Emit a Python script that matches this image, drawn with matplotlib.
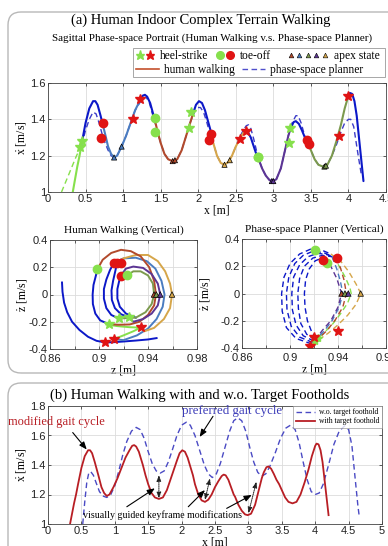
import numpy as np
import matplotlib
matplotlib.use('Agg')
import matplotlib.pyplot as plt
from matplotlib.lines import Line2D
from matplotlib.legend_handler import HandlerTuple
from matplotlib.patches import FancyBboxPatch, Rectangle
from matplotlib.ticker import FuncFormatter

plt.rcParams['font.family'] = ['Liberation Sans', 'DejaVu Sans']
plt.rcParams['mathtext.fontset'] = 'custom'
plt.rcParams['mathtext.rm'] = 'Liberation Serif'
plt.rcParams['mathtext.it'] = 'Liberation Serif:italic'
SERIF = ['Liberation Serif', 'DejaVu Serif']

# ---------------- colours ----------------
BLUE = '#0c18c8'
STEEL = '#4a7cc0'
BROWN = '#b24a2c'
GOLD = '#d6a64a'
PURPLE = '#5c3594'
OLIVE = '#7c9a4e'
LGREEN = '#86e04c'
RED = '#e01414'
PLAN = '#3c3cc8'

# ---------------- (a) sagittal: human walking segments ----------------
hw_green_x = [0.33, 0.36, 0.39, 0.42, 0.45]
hw_green_y = [1.00, 1.07, 1.14, 1.20, 1.27]
hw_blue1_x = [0.45, 0.50, 0.55, 0.60, 0.63, 0.66, 0.70, 0.73]
hw_blue1_y = [1.27, 1.38, 1.46, 1.50, 1.50, 1.48, 1.42, 1.37]
hw_steel_x = [0.73, 0.76, 0.80, 0.84, 0.88, 0.92, 0.98, 1.04, 1.10, 1.16, 1.22]
hw_steel_y = [1.37, 1.32, 1.25, 1.21, 1.19, 1.20, 1.25, 1.31, 1.38, 1.45, 1.50]
hw_blue2_x = [1.22, 1.26, 1.29, 1.32, 1.36, 1.40, 1.42]
hw_blue2_y = [1.50, 1.53, 1.535, 1.525, 1.49, 1.43, 1.40]
hw_brown_x = [1.42, 1.46, 1.50, 1.55, 1.60, 1.66, 1.72, 1.78, 1.84, 1.90, 1.93]
hw_brown_y = [1.40, 1.33, 1.27, 1.21, 1.18, 1.17, 1.18, 1.23, 1.31, 1.39, 1.43]
hw_blue3_x = [1.93, 1.97, 2.01, 2.05, 2.09, 2.13, 2.17]
hw_blue3_y = [1.43, 1.48, 1.50, 1.49, 1.45, 1.39, 1.33]
hw_gold_x = [2.17, 2.20, 2.25, 2.30, 2.35, 2.40, 2.45, 2.50, 2.55, 2.60, 2.63]
hw_gold_y = [1.33, 1.27, 1.20, 1.16, 1.15, 1.165, 1.20, 1.25, 1.29, 1.325, 1.335]
hw_blue4_x = [2.63, 2.66, 2.70, 2.74, 2.78, 2.80]
hw_blue4_y = [1.335, 1.33, 1.30, 1.25, 1.20, 1.185]
hw_purple_x = [2.80, 2.85, 2.90, 2.95, 2.99, 3.04, 3.10, 3.15, 3.20, 3.23]
hw_purple_y = [1.185, 1.13, 1.09, 1.065, 1.06, 1.07, 1.13, 1.22, 1.31, 1.35]
hw_blue5_x = [3.23, 3.27, 3.30, 3.34, 3.38, 3.42, 3.46]
hw_blue5_y = [1.35, 1.385, 1.39, 1.375, 1.34, 1.30, 1.27]
hw_olive_x = [3.46, 3.50, 3.55, 3.60, 3.66, 3.72, 3.78, 3.84, 3.90, 3.95, 4.00]
hw_olive_y = [1.27, 1.23, 1.18, 1.15, 1.14, 1.15, 1.20, 1.28, 1.37, 1.46, 1.53]
hw_blue6_x = [4.00, 4.02, 4.05, 4.08, 4.11, 4.14, 4.17, 4.20]
hw_blue6_y = [1.53, 1.545, 1.54, 1.50, 1.42, 1.30, 1.18, 1.06]

# phase-space planner (sagittal)
pl_green_x = [0.18, 0.25, 0.32, 0.38, 0.45]
pl_green_y = [1.00, 1.07, 1.14, 1.20, 1.26]
pl_x = [0.45, 0.50, 0.55, 0.60, 0.64, 0.68, 0.72, 0.76, 0.80, 0.84, 0.88, 0.92, 0.98,
        1.04, 1.10, 1.16, 1.22, 1.27, 1.31, 1.35, 1.39, 1.42, 1.46, 1.50, 1.55, 1.60,
        1.66, 1.72, 1.78, 1.84, 1.90, 1.95, 1.99, 2.03, 2.07, 2.11, 2.15, 2.20, 2.25,
        2.30, 2.35, 2.40, 2.45, 2.50, 2.55, 2.60, 2.64, 2.67, 2.70, 2.74, 2.78, 2.82,
        2.86, 2.90, 2.95, 2.99, 3.04, 3.10, 3.15, 3.20, 3.25, 3.30, 3.33, 3.37, 3.41,
        3.45, 3.50, 3.55, 3.60, 3.66, 3.72, 3.78, 3.84, 3.90, 3.95, 4.00, 4.03, 4.07,
        4.10, 4.13, 4.17]
pl_y = [1.26, 1.34, 1.40, 1.44, 1.43, 1.38, 1.32, 1.27, 1.23, 1.20, 1.19, 1.20, 1.25,
        1.31, 1.38, 1.45, 1.49, 1.52, 1.52, 1.49, 1.43, 1.39, 1.33, 1.27, 1.21, 1.18,
        1.17, 1.18, 1.23, 1.31, 1.39, 1.44, 1.465, 1.465, 1.44, 1.39, 1.33, 1.27, 1.20,
        1.16, 1.15, 1.165, 1.20, 1.25, 1.30, 1.34, 1.365, 1.37, 1.35, 1.29, 1.22, 1.165,
        1.12, 1.09, 1.065, 1.06, 1.07, 1.13, 1.22, 1.31, 1.38, 1.42, 1.42, 1.38, 1.32,
        1.27, 1.23, 1.18, 1.15, 1.14, 1.15, 1.20, 1.26, 1.33, 1.38, 1.40, 1.40, 1.36,
        1.28, 1.20, 1.10]

# events (sagittal)
hs_green_x = [0.45, 0.43, 1.90, 1.88, 3.22, 3.21]
hs_green_y = [1.28, 1.25, 1.44, 1.35, 1.35, 1.27]
hs_red_x = [1.23, 1.13, 2.63, 2.55, 4.00, 3.88]
hs_red_y = [1.51, 1.40, 1.335, 1.29, 1.53, 1.31]
to_red_x = [0.73, 0.70, 2.17, 2.15, 3.45, 3.48]
to_red_y = [1.38, 1.30, 1.32, 1.285, 1.285, 1.265]
to_green_x = [1.42, 1.42, 2.80, 2.79]
to_green_y = [1.41, 1.33, 1.19, 1.19]
apex_x = [0.88, 0.98, 1.66, 1.69, 2.35, 2.42, 2.98, 3.00, 3.68, 3.70]
apex_y = [1.19, 1.25, 1.17, 1.175, 1.15, 1.175, 1.06, 1.06, 1.14, 1.145]
apex_c = [STEEL, STEEL, BROWN, BROWN, GOLD, GOLD, PURPLE, PURPLE, OLIVE, OLIVE]

# ---------------- vertical, human walking ----------------
vh_steel_z = [0.9123, 0.920, 0.930, 0.939, 0.946, 0.951, 0.9535, 0.952, 0.947, 0.940, 0.931, 0.920, 0.912]
vh_steel_d = [0.234, 0.265, 0.270, 0.245, 0.190, 0.100, 0.0, -0.09, -0.18, -0.25, -0.30, -0.335, -0.327]
vh_brown_z = [0.8987, 0.903, 0.910, 0.918, 0.926, 0.934, 0.941, 0.945, 0.9465, 0.945, 0.940, 0.933, 0.925, 0.916, 0.908]
vh_brown_d = [0.185, 0.255, 0.305, 0.328, 0.318, 0.280, 0.200, 0.100, 0.0, -0.08, -0.15, -0.20, -0.22, -0.222, -0.217]
vh_gold_z = [0.9147, 0.920, 0.930, 0.940, 0.948, 0.954, 0.958, 0.9596, 0.958, 0.953, 0.945, 0.937, 0.934]
vh_gold_d = [0.234, 0.265, 0.290, 0.290, 0.245, 0.170, 0.080, 0.0, -0.10, -0.18, -0.245, -0.27, -0.241]
vh_purple_z = [0.9177, 0.922, 0.928, 0.936, 0.943, 0.948, 0.950, 0.948, 0.943, 0.936, 0.928, 0.9245]
vh_purple_d = [0.137, 0.190, 0.205, 0.195, 0.150, 0.080, 0.0, -0.08, -0.14, -0.18, -0.20, -0.168]
vh_olive_z = [0.923, 0.928, 0.934, 0.940, 0.944, 0.945, 0.943, 0.938, 0.930, 0.9163]
vh_olive_d = [0.141, 0.170, 0.170, 0.140, 0.080, 0.0, -0.07, -0.13, -0.17, -0.176]
vh_green_z = [0.906, 0.915, 0.925, 0.934, 0.928, 0.920, 0.9123]
vh_green_d = [-0.220, -0.232, -0.240, -0.243, -0.27, -0.30, -0.327]
vh_blueA_z = [0.8698, 0.8702, 0.8715, 0.874, 0.878, 0.884, 0.891, 0.898, 0.905, 0.912, 0.920, 0.930, 0.940, 0.947]
vh_blueA_d = [0.088, 0.02, -0.06, -0.13, -0.20, -0.26, -0.31, -0.34, -0.352, -0.35, -0.345, -0.338, -0.33, -0.32]
vh_blueB_z = [0.908, 0.901, 0.897, 0.895, 0.8948, 0.8955, 0.8975, 0.8987]
vh_blueB_d = [-0.217, -0.19, -0.14, -0.07, 0.0, 0.07, 0.14, 0.185]
vh_blueC_z = [0.916, 0.910, 0.906, 0.904, 0.904, 0.906, 0.909, 0.9123]
vh_blueC_d = [-0.176, -0.15, -0.10, -0.03, 0.04, 0.11, 0.18, 0.234]
vh_blueD_z = [0.9245, 0.918, 0.913, 0.9105, 0.9102, 0.9115, 0.9135, 0.9147]
vh_blueD_d = [-0.168, -0.145, -0.10, -0.04, 0.03, 0.10, 0.18, 0.234]
vh_blueE_z = [0.930, 0.922, 0.917, 0.915, 0.915, 0.9165, 0.9177]
vh_blueE_d = [-0.17, -0.14, -0.09, -0.03, 0.04, 0.10, 0.137]

vh_to_red_z = [0.9123, 0.9147, 0.9177, 0.9177]
vh_to_red_d = [0.234, 0.234, 0.234, 0.137]
vh_to_green_z = [0.8987, 0.923]
vh_to_green_d = [0.185, 0.141]
vh_hs_red_z = [0.9052, 0.9123, 0.934]
vh_hs_red_d = [-0.351, -0.327, -0.241]
vh_hs_green_z = [0.908, 0.9163, 0.9245]
vh_hs_green_d = [-0.217, -0.176, -0.168]
vh_apex_z = [0.9449, 0.9468, 0.950, 0.9596]
vh_apex_d = [0.0, 0.0, 0.0, 0.0]
vh_apex_c = [BROWN, OLIVE, PURPLE, GOLD]

# ---------------- vertical, phase-space planner ----------------
vp_L1_z = [0.918, 0.905, 0.897, 0.8935, 0.893, 0.895, 0.900, 0.908, 0.917, 0.926, 0.934]
vp_L1_d = [-0.37, -0.33, -0.25, -0.13, 0.0, 0.12, 0.22, 0.29, 0.325, 0.32, 0.29]
vp_L2_z = [0.919, 0.908, 0.901, 0.8975, 0.897, 0.899, 0.904, 0.911, 0.919, 0.928, 0.936]
vp_L2_d = [-0.36, -0.32, -0.24, -0.12, 0.0, 0.12, 0.22, 0.28, 0.31, 0.30, 0.27]
vp_L3_z = [0.920, 0.911, 0.905, 0.902, 0.9015, 0.903, 0.908, 0.915, 0.923, 0.931, 0.938]
vp_L3_d = [-0.35, -0.31, -0.23, -0.12, 0.0, 0.12, 0.21, 0.27, 0.295, 0.285, 0.26]
vp_L4_z = [0.921, 0.914, 0.909, 0.907, 0.9065, 0.908, 0.912, 0.919, 0.927, 0.935]
vp_L4_d = [-0.34, -0.30, -0.22, -0.11, 0.0, 0.11, 0.20, 0.26, 0.28, 0.27]
vp_L5_z = [0.922, 0.918, 0.9145, 0.9125, 0.912, 0.913, 0.916, 0.921, 0.928]
vp_L5_d = [-0.33, -0.28, -0.20, -0.10, 0.0, 0.10, 0.18, 0.24, 0.265]
vp_gold_z = [0.934, 0.942, 0.949, 0.955, 0.959, 0.955, 0.948, 0.940, 0.932, 0.924, 0.918]
vp_gold_d = [0.29, 0.24, 0.16, 0.07, 0.0, -0.08, -0.16, -0.23, -0.29, -0.34, -0.37]
vp_olive_z = [0.936, 0.941, 0.946, 0.950, 0.951, 0.948, 0.942, 0.935, 0.927, 0.919]
vp_olive_d = [0.27, 0.20, 0.12, 0.04, 0.0, -0.07, -0.15, -0.23, -0.30, -0.36]
vp_brown_z = [0.938, 0.942, 0.945, 0.947, 0.944, 0.938, 0.931, 0.925, 0.920]
vp_brown_d = [0.26, 0.19, 0.10, 0.0, -0.10, -0.19, -0.27, -0.32, -0.35]
vp_steel_z = [0.935, 0.939, 0.942, 0.944, 0.941, 0.935, 0.928, 0.921]
vp_steel_d = [0.27, 0.18, 0.09, 0.0, -0.10, -0.20, -0.28, -0.34]
vp_purple_z = [0.928, 0.934, 0.939, 0.943, 0.940, 0.934, 0.927, 0.922]
vp_purple_d = [0.265, 0.20, 0.11, 0.0, -0.10, -0.20, -0.27, -0.33]

vp_to_green_z = [0.9211, 0.9311]
vp_to_green_d = [0.317, 0.226]
vp_to_red_z = [0.9272, 0.9389]
vp_to_red_d = [0.246, 0.263]
vp_hs_red_z = [0.9200, 0.9167, 0.9397]
vp_hs_red_d = [-0.317, -0.385, -0.275]
vp_hs_green_z = [0.921, 0.923]
vp_hs_green_d = [-0.345, -0.330]
vp_apex_z = [0.943, 0.9458, 0.9486, 0.9589]
vp_apex_d = [0.0, 0.0, 0.0, 0.0]
vp_apex_c = [BROWN, OLIVE, PURPLE, GOLD]

# ---------------- (b) without target foothold ----------------
wo_x = [0.52, 0.55, 0.58, 0.61, 0.64, 0.68, 0.72, 0.77, 0.82, 0.88, 0.94, 1.00, 1.06,
        1.12, 1.18, 1.25, 1.32, 1.38, 1.44, 1.50, 1.56, 1.62, 1.68, 1.74, 1.80, 1.86,
        1.93, 2.00, 2.07, 2.13, 2.20, 2.27, 2.34, 2.40, 2.46, 2.52, 2.58, 2.65, 2.72,
        2.78, 2.84, 2.90, 2.96, 3.02, 3.08, 3.14, 3.20, 3.26, 3.32, 3.40, 3.48, 3.56,
        3.63, 3.70, 3.76, 3.82, 3.88, 3.94, 4.00, 4.06, 4.12, 4.20, 4.28, 4.36, 4.44,
        4.50, 4.55, 4.60, 4.64, 4.66]
wo_y = [1.00, 1.15, 1.28, 1.345, 1.355, 1.33, 1.28, 1.22, 1.19, 1.18, 1.20, 1.26, 1.36,
        1.47, 1.56, 1.63, 1.655, 1.64, 1.58, 1.49, 1.41, 1.36, 1.345, 1.36, 1.42, 1.50,
        1.60, 1.67, 1.69, 1.67, 1.60, 1.50, 1.40, 1.34, 1.315, 1.34, 1.41, 1.52, 1.63,
        1.70, 1.72, 1.70, 1.63, 1.52, 1.42, 1.35, 1.325, 1.34, 1.39, 1.48, 1.58, 1.65,
        1.67, 1.64, 1.55, 1.42, 1.30, 1.22, 1.20, 1.21, 1.27, 1.40, 1.54, 1.63, 1.665,
        1.64, 1.53, 1.30, 1.12, 1.05]

# ---------------- figure ----------------
W, H = 388, 546
fig = plt.figure(figsize=(W / 100, H / 100), dpi=100)


def px_rect(l, t, r, b):
    return [l / W, 1 - b / H, (r - l) / W, (b - t) / H]


# rounded panel boxes
for (l, t, r, b) in [(8, 12, 420, 373), (8, 383, 420, 600)]:
    fig.patches.append(FancyBboxPatch((l / 100, (H - b) / 100), (r - l) / 100, (b - t) / 100,
                                      boxstyle='round,pad=0,rounding_size=0.13',
                                      transform=fig.dpi_scale_trans, fc='none',
                                      ec='#b8b8b8', lw=1.0))


def gfmt(v, p):
    if abs(v) < 1e-9:
        return '0'
    return '%g' % round(v, 6)


def style(ax, xt, yt, xl, yl):
    ax.set_xlim(*xl)
    ax.set_ylim(*yl)
    ax.set_xticks(xt)
    ax.set_yticks(yt)
    ax.xaxis.set_major_formatter(FuncFormatter(gfmt))
    ax.yaxis.set_major_formatter(FuncFormatter(gfmt))
    ax.grid(True, color='#dcdcdc', lw=0.6)
    ax.set_axisbelow(True)
    ax.tick_params(direction='in', length=2.5, width=0.5, labelsize=8, pad=1.5,
                   top=True, right=True, colors='#222222')
    for s in ax.spines.values():
        s.set_linewidth(0.6)
        s.set_color('#444444')


# ----- (a) top sagittal -----
AX1 = (48, 83, 386, 192)
ax1 = fig.add_axes(px_rect(*AX1))
style(ax1, np.arange(0, 4.51, 0.5), [1, 1.2, 1.4, 1.6], (0, 4.5), (1, 1.6))
dash = (0, (4, 2.5))
ax1.plot(pl_green_x, pl_green_y, color=LGREEN, lw=1.0, ls=dash)
ax1.plot(pl_x, pl_y, color=PLAN, lw=1.0, ls=dash)
segs = [(LGREEN, hw_green_x, hw_green_y), (BLUE, hw_blue1_x, hw_blue1_y),
        (STEEL, hw_steel_x, hw_steel_y), (BLUE, hw_blue2_x, hw_blue2_y),
        (BROWN, hw_brown_x, hw_brown_y), (BLUE, hw_blue3_x, hw_blue3_y),
        (GOLD, hw_gold_x, hw_gold_y), (BLUE, hw_blue4_x, hw_blue4_y),
        (PURPLE, hw_purple_x, hw_purple_y), (BLUE, hw_blue5_x, hw_blue5_y),
        (OLIVE, hw_olive_x, hw_olive_y), (BLUE, hw_blue6_x, hw_blue6_y)]
for c, xs, ys in segs:
    ax1.plot(xs, ys, color=c, lw=1.5, solid_capstyle='round')
ax1.plot(hs_green_x, hs_green_y, ls='none', marker='*', ms=7, color=LGREEN, mec=LGREEN)
ax1.plot(hs_red_x, hs_red_y, ls='none', marker='*', ms=7, color=RED, mec=RED)
ax1.plot(to_red_x, to_red_y, ls='none', marker='o', ms=6, color=RED, mec=RED)
ax1.plot(to_green_x, to_green_y, ls='none', marker='o', ms=6, color=LGREEN, mec=LGREEN)
ax1.scatter(apex_x, apex_y, marker='^', s=14, c=apex_c, edgecolors='k', linewidths=0.5, zorder=5)
ax1.set_xlabel('x [m]', family=SERIF, fontsize=8.5, labelpad=0)
ax1.set_ylabel(r'$\dot{\rm x}$ [m/s]', family=SERIF, fontsize=8.5, labelpad=2)


# legend of (a): framed box made of three legends
def ax1_coords(px, py):
    l, t, r, b = AX1
    return ((px - l) / (r - l), (b - py) / (b - t))


ms_kw = dict(ls='none')
h_hs = (Line2D([], [], marker='*', ms=6.5, color=LGREEN, **ms_kw),
        Line2D([], [], marker='*', ms=6.5, color=RED, **ms_kw))
h_to = (Line2D([], [], marker='o', ms=5.5, color=LGREEN, **ms_kw),
        Line2D([], [], marker='o', ms=5.5, color=RED, **ms_kw))
h_ap = tuple(Line2D([], [], marker='^', ms=3.4, mfc=c, mec='k', mew=0.4, **ms_kw)
             for c in [BROWN, STEEL, OLIVE, PURPLE, GOLD])
h_hw = Line2D([], [], color='#c4502c', lw=1.2)
h_pl = Line2D([], [], color='#5050cc', lw=1.0, ls=dash)
common = dict(prop={'family': SERIF, 'size': 8.3}, frameon=False, borderpad=0,
              borderaxespad=0, handletextpad=0.45, loc='center left',
              handler_map={tuple: HandlerTuple(ndivide=None, pad=0.05)})
lgA = ax1.legend([h_hs, h_to], ['heel-strike', 'toe-off'], ncol=2, handlelength=1.75,
                 columnspacing=0.55, bbox_to_anchor=ax1_coords(135, 56), **common)
ax1.add_artist(lgA)
lgB = ax1.legend([h_ap], ['apex state'], handlelength=3.6,
                 bbox_to_anchor=ax1_coords(287, 56), **common)
ax1.add_artist(lgB)
lgC = ax1.legend([h_hw, h_pl], ['human walking', 'phase-space planner'], ncol=2,
                 handlelength=2.0, columnspacing=0.6, bbox_to_anchor=ax1_coords(136, 70), **common)
fx0, fy0 = ax1_coords(133, 77)
fx1, fy1 = ax1_coords(385, 48)
ax1.add_patch(Rectangle((fx0, fy0), fx1 - fx0, fy1 - fy0, transform=ax1.transAxes,
                        fc='white', ec='#999999', lw=0.6, clip_on=False, zorder=0))

fig.text(201 / W, 1 - 20 / H, '(a) Human Indoor Complex Terrain Walking', family=SERIF,
         fontsize=10.5, ha='center', va='center')
fig.text(212 / W, 1 - 38 / H, 'Sagittal Phase-space Portrait (Human Walking v.s. Phase-space Planner)',
         family=SERIF, fontsize=7.9, ha='center', va='center')

# ----- vertical human -----
zt = np.round(np.arange(0.86, 0.981, 0.02), 2)


def zfmt(v, p):
    r = round(v, 2)
    for lab in (0.86, 0.90, 0.94, 0.98):
        if abs(r - lab) < 1e-6:
            return '%g' % r
    return ''


ax2 = fig.add_axes(px_rect(50, 240, 197, 349))
style(ax2, zt, [-0.4, -0.2, 0, 0.2, 0.4], (0.86, 0.98), (-0.4, 0.4))
ax2.xaxis.set_major_formatter(FuncFormatter(zfmt))
ax2.tick_params(axis='x', pad=3.8)
vsegs = [(BLUE, vh_blueA_z, vh_blueA_d), (BLUE, vh_blueB_z, vh_blueB_d),
         (BLUE, vh_blueC_z, vh_blueC_d), (BLUE, vh_blueD_z, vh_blueD_d),
         (BLUE, vh_blueE_z, vh_blueE_d), (LGREEN, vh_green_z, vh_green_d),
         (STEEL, vh_steel_z, vh_steel_d), (GOLD, vh_gold_z, vh_gold_d),
         (BROWN, vh_brown_z, vh_brown_d), (OLIVE, vh_olive_z, vh_olive_d),
         (PURPLE, vh_purple_z, vh_purple_d)]
for c, zs, ds in vsegs:
    ax2.plot(zs, ds, color=c, lw=1.4)
ax2.plot(vh_to_red_z, vh_to_red_d, ls='none', marker='o', ms=6, color=RED)
ax2.plot(vh_to_green_z, vh_to_green_d, ls='none', marker='o', ms=6, color=LGREEN)
ax2.plot(vh_hs_red_z, vh_hs_red_d, ls='none', marker='*', ms=7, color=RED)
ax2.plot(vh_hs_green_z, vh_hs_green_d, ls='none', marker='*', ms=7, color=LGREEN)
ax2.scatter(vh_apex_z, vh_apex_d, marker='^', s=16, c=vh_apex_c, edgecolors='k', linewidths=0.5, zorder=5)
ax2.set_xlabel('z [m]', family=SERIF, fontsize=8.5, labelpad=0)
ax2.set_ylabel(r'$\dot{\rm z}$ [m/s]', family=SERIF, fontsize=8.5, labelpad=0)
ax2.set_title('Human Walking (Vertical)', family=SERIF, fontsize=8.2, pad=5)

# ----- vertical planner -----
ax3 = fig.add_axes(px_rect(242, 239, 386, 348))
style(ax3, zt, [-0.4, -0.2, 0, 0.2, 0.4], (0.86, 0.98), (-0.4, 0.4))
ax3.xaxis.set_major_formatter(FuncFormatter(zfmt))
ax3.tick_params(axis='x', pad=3.8)
psegs = [(BLUE, vp_L1_z, vp_L1_d), (BLUE, vp_L2_z, vp_L2_d), (BLUE, vp_L3_z, vp_L3_d),
         (BLUE, vp_L4_z, vp_L4_d), (BLUE, vp_L5_z, vp_L5_d),
         (GOLD, vp_gold_z, vp_gold_d), (LGREEN, vp_olive_z, vp_olive_d),
         (BROWN, vp_brown_z, vp_brown_d), (STEEL, vp_steel_z, vp_steel_d),
         (PURPLE, vp_purple_z, vp_purple_d)]
for c, zs, ds in psegs:
    ax3.plot(zs, ds, color=c, lw=1.0, ls=(0, (4, 2.5)))
ax3.plot(vp_to_green_z, vp_to_green_d, ls='none', marker='o', ms=6, color=LGREEN)
ax3.plot(vp_to_red_z, vp_to_red_d, ls='none', marker='o', ms=6, color=RED)
ax3.plot(vp_hs_green_z, vp_hs_green_d, ls='none', marker='*', ms=6, color=LGREEN)
ax3.plot(vp_hs_red_z, vp_hs_red_d, ls='none', marker='*', ms=7, color=RED)
ax3.scatter(vp_apex_z, vp_apex_d, marker='^', s=16, c=vp_apex_c, edgecolors='k', linewidths=0.5, zorder=5)
ax3.set_xlabel('z [m]', family=SERIF, fontsize=8.5, labelpad=0)
ax3.set_ylabel(r'$\dot{\rm z}$ [m/s]', family=SERIF, fontsize=8.5, labelpad=6)
ax3.set_title('Phase-space Planner (Vertical)', family=SERIF, fontsize=8.2, pad=5)

# ----- (b) -----
ax4 = fig.add_axes(px_rect(48, 406, 382, 524))
style(ax4, np.arange(0, 5.01, 0.5), [1, 1.2, 1.4, 1.6, 1.8], (0, 5), (1, 1.8))
with_x = np.concatenate([s[1] for s in segs])
with_y = np.concatenate([s[2] for s in segs])
ax4.plot(wo_x, wo_y, color='#4a4ac4', lw=1.0, ls=dash, label='w.o. target foothold')
ax4.plot(with_x, with_y, color='#b81e24', lw=1.3, label='with target foothold')
lg2 = ax4.legend(loc='upper right', borderaxespad=0, prop={'family': SERIF, 'size': 5.5},
                 frameon=True, fancybox=False, edgecolor='#999999', handlelength=2.6,
                 labelspacing=0.15, borderpad=0.3, handletextpad=0.5)
lg2.get_frame().set_linewidth(0.6)
ax4.set_xlabel('x [m]', family=SERIF, fontsize=8.5, labelpad=0)
ax4.set_ylabel(r'$\dot{\rm x}$ [m/s]', family=SERIF, fontsize=8.5, labelpad=2)
fig.text(200 / W, 1 - 395 / H, '(b) Human Walking with and w.o. Target Footholds', family=SERIF,
         fontsize=10.5, ha='center', va='center')

ax4.text(-0.6, 1.694, 'modified gait cycle', family=SERIF, fontsize=9.0, color='#b81e24',
         ha='left', va='center', clip_on=False)
ax4.text(2.75, 1.764, 'preferred gait cycle', family=SERIF, fontsize=9.3, color='#3a3ab8',
         ha='center', va='center', clip_on=False)
arr = dict(arrowstyle='-|>,head_length=0.45,head_width=0.18', color='k', lw=0.8, shrinkA=0, shrinkB=0)
ax4.annotate('', xy=(0.58, 1.505), xytext=(0.37, 1.62), arrowprops=arr)
ax4.annotate('', xy=(2.27, 1.59), xytext=(2.47, 1.73), arrowprops=arr)
ax4.text(1.714, 1.061, 'visually guided keyframe modifications', family=SERIF, fontsize=7.1,
         ha='center', va='center')
for (x0, y0, x1, y1) in [(1.18, 1.117, 1.60, 1.242), (2.10, 1.117, 2.35, 1.23), (2.675, 1.106, 3.05, 1.197)]:
    ax4.annotate('', xy=(x1, y1), xytext=(x0, y0), arrowprops=arr)
darr = dict(arrowstyle='<|-|>,head_length=0.35,head_width=0.13', color='#222222', lw=0.7,
            ls=(0, (1, 1)), shrinkA=0, shrinkB=0)
for (x0, y0, x1, y1) in [(1.66, 1.174, 1.66, 1.332), (2.35, 1.163, 2.425, 1.31), (3.0, 1.073, 3.12, 1.287)]:
    ax4.annotate('', xy=(x1, y1), xytext=(x0, y0), arrowprops=darr)

fig.savefig('out.png', dpi=100)
